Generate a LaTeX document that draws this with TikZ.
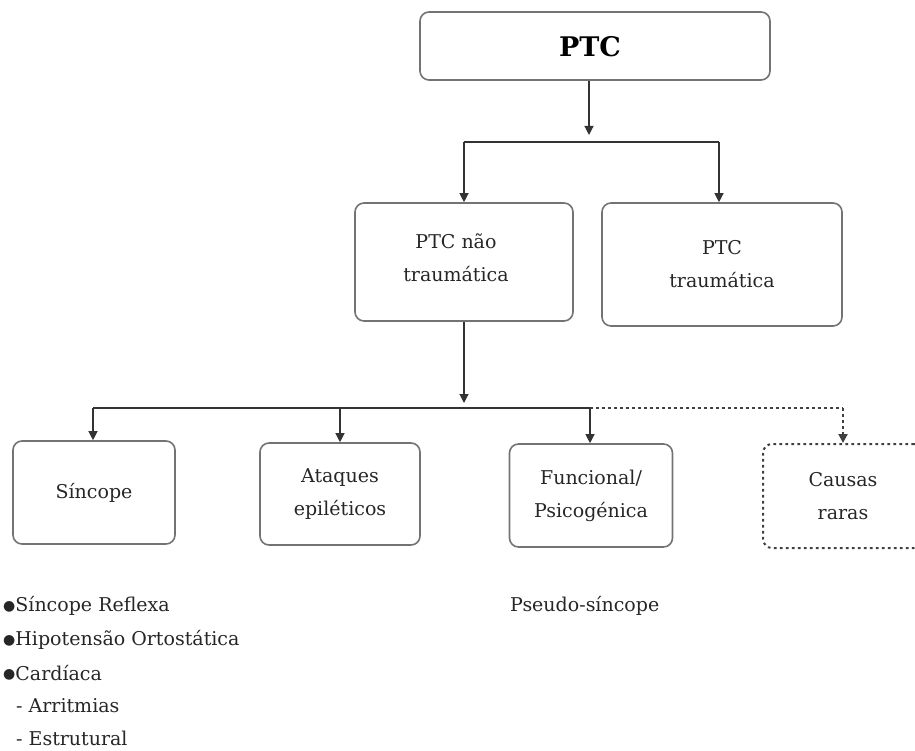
\documentclass[tikz,border=0pt]{standalone}
\usepackage{fontspec}
\setmainfont{DejaVu Serif}
\usetikzlibrary{arrows.meta,calc}
\newcommand{\mybul}{\raisebox{1.6pt}{\fontsize{14}{14}\selectfont●}}
\begin{document}
\begin{tikzpicture}[x=1pt,y=-1pt,
  box/.style={draw=black!55, line width=1.6pt, rounded corners=9pt, align=center,
    inner sep=0pt, font=\fontsize{19}{33}\selectfont, text=black!85},
  dbox/.style={box, draw=black!75, line width=2pt, dash pattern=on 2.6pt off 3.4pt},
  conn/.style={draw=black!80, line width=1.2pt},
  dconn/.style={draw=black!75, line width=2pt, dash pattern=on 2.6pt off 3.4pt},
  tip/.style={-{Triangle[length=9pt,width=9pt]}},
  txt/.style={anchor=west, inner sep=0pt, font=\fontsize{19}{33}\selectfont, text=black!85}]
\useasboundingbox (0,0) rectangle (915,751);
\begin{scope}
\clip (0,0) rectangle (915,751);
% boxes
\node[box, minimum width=350pt, minimum height=68pt] (ptc) at (595,46) {};
\node[inner sep=0pt, font=\fontsize{27}{30}\selectfont\bfseries] (ptct) at (590,47) {PTC};
\node[box, minimum width=218pt, minimum height=118pt] (ntr) at (464,262) {};
\node[align=center, inner sep=0pt, font=\fontsize{19}{33}\selectfont, text=black!85] (ntrt) at (456,258) {PTC não\\traumática};
\node[box, minimum width=240pt, minimum height=123pt] (tr) at (722,264.5) {PTC\\traumática};
\node[box, minimum width=162pt, minimum height=103pt] (sin) at (94,492.5) {Síncope};
\node[box, minimum width=160pt, minimum height=102pt] (ata) at (340,494) {Ataques\\epiléticos};
\node[box, minimum width=163pt, minimum height=103pt] (fun) at (591,495.5) {Funcional/\\Psicogénica};
\node[dbox, minimum width=160pt, minimum height=104pt] (cau) at (843,496) {Causas\\raras};
\end{scope}
% level 1 connectors
\coordinate (j1) at (589,142);
\coordinate (j1tip) at (589,135);
\draw[conn,tip] (ptc.south -| j1) -- (j1tip);
\coordinate (l1a) at (464,142);
\coordinate (l1b) at (719,142);
\draw[conn] (l1a) -- (l1b);
\draw[conn,tip] (l1a) -- (ntr.north -| l1a);
\draw[conn,tip] (l1b) -- (tr.north -| l1b);
% level 2 connectors
\coordinate (j2) at (464,409);
\coordinate (j2tip) at (464,403);
\draw[conn,tip] (ntr.south -| j2) -- (j2tip);
\coordinate (l2a) at (93,408);
\coordinate (l2b) at (340,408);
\coordinate (l2c) at (590,408);
\coordinate (l2d) at (843,408);
\draw[conn] (l2a) -- (l2c);
\draw[dconn] (l2c) -- (l2d);
\draw[conn,tip] (l2a) -- (sin.north -| l2a);
\draw[conn,tip] (l2b) -- (ata.north -| l2b);
\draw[conn,tip] (l2c) -- (fun.north -| l2c);
\draw[dconn,tip] (l2d) -- (cau.north -| l2d);
% lists
\node[txt] (s1) at (3,606) {\mybul Síncope Reflexa};
\node[txt] (s2) at (3,640) {\mybul Hipotensão Ortostática};
\node[txt] (s3) at (3,673) {\mybul Cardíaca};
\node[txt] (s4) at (16,706) {- Arritmias};
\node[txt] (s5) at (16,738) {- Estrutural};
\node[txt] (ps) at (510,606) {Pseudo-síncope};
\end{tikzpicture}
\end{document}
